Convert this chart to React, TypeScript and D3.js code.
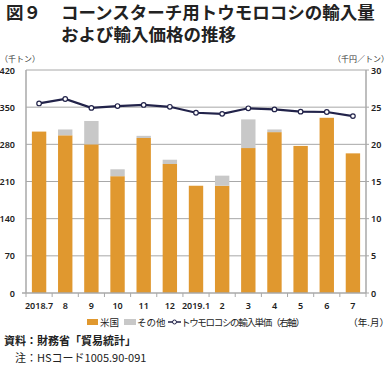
import React from "react";
import * as d3 from "d3";

const categories = ["2018.7", "8", "9", "10", "11", "12", "2019.1", "2", "3", "4", "5", "6", "7"];
const usValues = [304, 297, 280, 220, 292, 243, 202, 202, 273, 303, 277, 330, 263];
const otherValues = [0, 11, 44, 13, 4, 8, 0, 19, 54, 5, 0, 0, 0];
const priceValues = [25.5, 26.1, 24.9, 25.15, 25.3, 25.05, 24.25, 24.1, 24.85, 24.7, 24.4, 24.35, 23.8];
const leftTicks = [0, 70, 140, 210, 280, 350, 420];
const rightTicks = [0, 5, 10, 15, 20, 25, 30];

const W = 389, H = 366;
const L = 26, R = 366, T = 70, B = 293;
const ORANGE = "#E0982F";
const GRAY = "#C8C8C8";
const NAVY = "#22234A";
const GRID = "#A8A8A8";
const JP = "'Noto Sans CJK JP', 'Noto Sans', sans-serif";
const NUM = "'Noto Sans', 'Liberation Sans', sans-serif";

export default function App() {
  const x = d3.scaleBand<string>().domain(categories).range([L, R]).paddingInner(0.45).paddingOuter(0.225);
  const step = (R - L) / categories.length;
  const yL = d3.scaleLinear().domain([0, 420]).range([B, T]);
  const yR = d3.scaleLinear().domain([0, 30]).range([B, T]);
  const line = d3.line<number>().x((_, i) => (x(categories[i]) as number) + x.bandwidth() / 2).y((d) => yR(d));
  return (
    <svg width={W} height={H} style={{ position: "absolute", left: 0, top: 0, background: "#fff" }}>
      <g fontFamily={JP} fontSize={17.5} fontWeight={700} fill="#222" style={{ dominantBaseline: "alphabetic" }}>
        <text x={6} y={19}>図９</text>
        <text x={61} y={19}>コーンスターチ用トウモロコシの輸入量</text>
        <text x={61} y={41}>および輸入価格の推移</text>
      </g>
      <text x={0} y={62} fontFamily={JP} fontSize={8} fill="#333">（千トン）</text>
      <text x={389} y={62} textAnchor="end" fontFamily={JP} fontSize={8} fill="#333">（千円／トン）</text>
      {leftTicks.map((t) => (
        <g key={"l" + t}>
          {t > 0 && <line x1={L} x2={R} y1={yL(t)} y2={yL(t)} stroke={GRID} strokeWidth={1} />}
          <text x={L - 11} y={yL(t) + 3.5} textAnchor="end" fontFamily={NUM} fontSize={9} fontWeight={600} fill="#222">{t}</text>
        </g>
      ))}
      {rightTicks.map((t) => (
        <g key={"r" + t}>
          <line x1={R} x2={R + 3} y1={yR(t)} y2={yR(t)} stroke={GRID} />
          <text x={R + 5} y={yR(t) + 3.5} fontFamily={NUM} fontSize={9} fontWeight={600} fill="#222">{t}</text>
        </g>
      ))}
      {categories.map((c, i) => (
        <g key={c}>
          <rect x={x(c)} y={yL(usValues[i])} width={x.bandwidth()} height={B - yL(usValues[i])} fill={ORANGE} />
          {otherValues[i] > 0 && (
            <rect x={x(c)} y={yL(usValues[i] + otherValues[i])} width={x.bandwidth()} height={yL(usValues[i]) - yL(usValues[i] + otherValues[i])} fill={GRAY} />
          )}
          <text x={(x(c) as number) + x.bandwidth() / 2} y={309} textAnchor="middle" fontFamily={NUM} fontSize={9} fontWeight={600} fill="#222">{c}</text>
        </g>
      ))}
      {d3.range(categories.length + 1).map((i) => (
        <line key={"xt" + i} x1={L + i * step} x2={L + i * step} y1={B} y2={B + 4} stroke={GRID} />
      ))}
      <line x1={L} x2={L} y1={T} y2={B} stroke={GRID} strokeWidth={1.5} />
      <line x1={R} x2={R} y1={T} y2={B} stroke={GRID} strokeWidth={1.5} />
      <line x1={L - 4} x2={R} y1={B} y2={B} stroke={GRID} strokeWidth={1.5} />
      <path d={line(priceValues) || ""} fill="none" stroke={NAVY} strokeWidth={2.2} />
      {priceValues.map((v, i) => (
        <circle key={"p" + i} cx={(x(categories[i]) as number) + x.bandwidth() / 2} cy={yR(v)} r={2.3} fill="#fff" stroke={NAVY} strokeWidth={1.2} />
      ))}
      <g fontFamily={JP} fontSize={9.5} fill="#222">
        <rect x={87} y={319} width={11} height={6} fill={ORANGE} />
        <text x={100} y={326}>米国</text>
        <rect x={124} y={319} width={12} height={6} fill={GRAY} />
        <text x={137} y={326}>その他</text>
        <line x1={168} x2={181} y1={322} y2={322} stroke={NAVY} strokeWidth={1.5} />
        <circle cx={174.5} cy={322} r={2} fill="#fff" stroke={NAVY} strokeWidth={1} />
        <text x={181} y={326} textLength={124}>トウモロコシの輸入単価（右軸）</text>
        <text x={389} y={326} textAnchor="end">（年.月）</text>
      </g>
      <text x={4} y={345} fontFamily={JP} fontSize={11} fontWeight={700} fill="#222">資料：財務省「貿易統計」</text>
      <text x={15} y={362} fontFamily={JP} fontSize={11} fill="#222">注：HSコード1005.90-091</text>
    </svg>
  );
}
